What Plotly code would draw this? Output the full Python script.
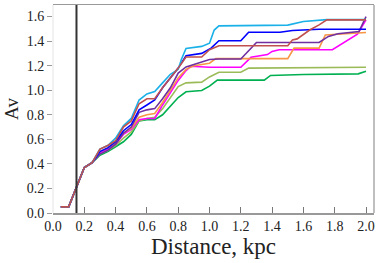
import plotly.graph_objects as go

START_X = [0.05, 0.1, 0.2, 0.25]
START_Y = [0.05, 0.05, 0.37, 0.41]

cyan_x = [0.3, 0.35, 0.4, 0.45, 0.5, 0.55, 0.6, 0.65, 0.7, 0.75, 0.8, 0.82, 0.85, 0.95, 1.0, 1.03, 1.06, 1.45, 1.5, 1.6, 1.75, 2.0]
cyan_y = [0.52, 0.55, 0.61, 0.71, 0.77, 0.92, 0.97, 0.99, 1.06, 1.13, 1.17, 1.25, 1.34, 1.357, 1.383, 1.49, 1.524, 1.525, 1.53, 1.56, 1.575, 1.575]

blue_x = [0.3, 0.35, 0.4, 0.45, 0.5, 0.55, 0.6, 0.65, 0.7, 0.75, 0.8, 0.85, 0.9, 0.95, 1.01, 1.06, 1.2, 1.25, 1.45, 1.53, 1.7, 2.0]
blue_y = [0.5, 0.53, 0.58, 0.67, 0.72, 0.84, 0.88, 0.92, 1.02, 1.1, 1.18, 1.28, 1.29, 1.30, 1.343, 1.403, 1.403, 1.472, 1.472, 1.486, 1.497, 1.497]

brown_x = [0.3, 0.35, 0.4, 0.45, 0.5, 0.55, 0.6, 0.65, 0.7, 0.75, 0.8, 0.85, 0.95, 1.0, 1.06, 1.5, 1.53, 1.56, 1.64, 1.7, 1.75, 2.0]
brown_y = [0.52, 0.55, 0.59, 0.70, 0.75, 0.89, 0.93, 0.93, 1.02, 1.10, 1.18, 1.27, 1.27, 1.33, 1.362, 1.362, 1.41, 1.418, 1.49, 1.532, 1.573, 1.573]

purple_x = [0.3, 0.35, 0.4, 0.45, 0.5, 0.55, 0.6, 0.65, 0.7, 0.75, 0.8, 0.85, 0.9, 1.0, 1.06, 1.2, 1.3, 1.7, 1.76, 1.82, 1.955, 2.0]
purple_y = [0.48, 0.51, 0.56, 0.65, 0.70, 0.82, 0.84, 0.85, 0.93, 1.02, 1.14, 1.19, 1.21, 1.25, 1.254, 1.254, 1.389, 1.39, 1.438, 1.46, 1.478, 1.60]

orange_x = [0.3, 0.35, 0.4, 0.45, 0.5, 0.55, 0.6, 0.65, 0.7, 0.75, 0.8, 0.85, 0.9, 1.0, 1.04, 1.5, 1.54, 1.7, 1.74, 2.0]
orange_y = [0.5, 0.53, 0.57, 0.65, 0.69, 0.78, 0.80, 0.81, 0.90, 1.0, 1.1, 1.17, 1.2, 1.22, 1.257, 1.257, 1.343, 1.343, 1.45, 1.47]

magenta_x = [0.3, 0.35, 0.4, 0.45, 0.5, 0.55, 0.6, 0.65, 0.7, 0.75, 0.8, 0.85, 0.88, 1.0, 1.2, 1.265, 1.32, 1.37, 1.4, 1.445, 1.785, 1.87, 1.945, 2.0]
magenta_y = [0.49, 0.52, 0.56, 0.64, 0.68, 0.76, 0.77, 0.77, 0.88, 0.98, 1.08, 1.16, 1.195, 1.187, 1.187, 1.268, 1.282, 1.29, 1.316, 1.33, 1.33, 1.397, 1.456, 1.573]

lgreen_x = [0.3, 0.35, 0.4, 0.45, 0.5, 0.55, 0.6, 0.65, 0.7, 0.75, 0.8, 0.85, 0.95, 1.0, 1.06, 1.2, 1.25, 2.0]
lgreen_y = [0.48, 0.51, 0.55, 0.61, 0.66, 0.75, 0.77, 0.78, 0.85, 0.94, 1.03, 1.06, 1.066, 1.108, 1.146, 1.146, 1.18, 1.187]

green_x = [0.3, 0.35, 0.4, 0.45, 0.5, 0.55, 0.6, 0.65, 0.7, 0.75, 0.8, 0.85, 0.95, 1.0, 1.05, 1.35, 1.39, 1.6, 1.95, 2.0]
green_y = [0.47, 0.50, 0.54, 0.58, 0.64, 0.75, 0.76, 0.76, 0.80, 0.87, 0.94, 0.987, 0.998, 1.033, 1.082, 1.082, 1.12, 1.128, 1.133, 1.155]

SERIES = [
    ("green", green_x, green_y, "#00b050"),
    ("lightgreen", lgreen_x, lgreen_y, "#9bbb59"),
    ("magenta", magenta_x, magenta_y, "#ff00ff"),
    ("orange", orange_x, orange_y, "#f79646"),
    ("purple", purple_x, purple_y, "#7030a0"),
    ("blue", blue_x, blue_y, "#0000ff"),
    ("cyan", cyan_x, cyan_y, "#1ab0e8"),
    ("brown", brown_x, brown_y, "#c0504d"),
]

X_TICKS = [0.0, 0.2, 0.4, 0.6, 0.8, 1.0, 1.2, 1.4, 1.6, 1.8, 2.0]
Y_TICKS = [0.0, 0.2, 0.4, 0.6, 0.8, 1.0, 1.2, 1.4, 1.6]
MARKER_DISTANCE = 0.15

fig = go.Figure()
for name, xs, ys, col in SERIES:
    fig.add_trace(go.Scatter(x=START_X + xs, y=START_Y + ys, mode="lines", name=name,
                             line=dict(color=col, width=1.6), showlegend=False))

font_family = "Liberation Serif, Times New Roman, serif"
fig.update_layout(
    width=378, height=263,
    margin=dict(l=53, r=3, t=3, b=50),
    paper_bgcolor="white", plot_bgcolor="white",
    font=dict(family=font_family, color="#222"),
    xaxis=dict(range=[0, 2.051], tickvals=X_TICKS, ticktext=[f"{v:.1f}" for v in X_TICKS],
               showgrid=False, zeroline=False, showline=True, mirror=True, linecolor="#999", linewidth=1.5,
               ticks="inside", ticklen=6, tickcolor="#777", tickfont=dict(size=14),
               title=dict(text="Distance, kpc", font=dict(size=23), standoff=3)),
    yaxis=dict(range=[0, 1.694], tickvals=Y_TICKS, ticktext=[f"{v:.1f}" for v in Y_TICKS],
               showgrid=False, zeroline=False, showline=False,
               ticks="outside", ticklen=5, tickcolor="#999", tickfont=dict(size=14),
               title=dict(text="Av", font=dict(size=19), standoff=3)),
)
fig.add_shape(type="line", xref="paper", yref="paper", x0=1, x1=1, y0=0, y1=1,
              line=dict(color="#aaa", width=1.5))
fig.add_shape(type="line", xref="paper", yref="paper", x0=0, x1=0, y0=0, y1=1,
              line=dict(color="#e4e4e4", width=1))
fig.add_shape(type="line", xref="x", yref="paper", x0=MARKER_DISTANCE, x1=MARKER_DISTANCE, y0=0, y1=1,
              line=dict(color="#333", width=2))
fig.write_html("out.html", config={"displayModeBar": False, "staticPlot": True})

# remove the browser's default page margin so the figure sits at the window origin
with open("out.html", encoding="utf-8") as f:
    html = f.read()
html = html.replace("<body>", '<body style="margin:0;padding:0;overflow:hidden">', 1)
with open("out.html", "w", encoding="utf-8") as f:
    f.write(html)
